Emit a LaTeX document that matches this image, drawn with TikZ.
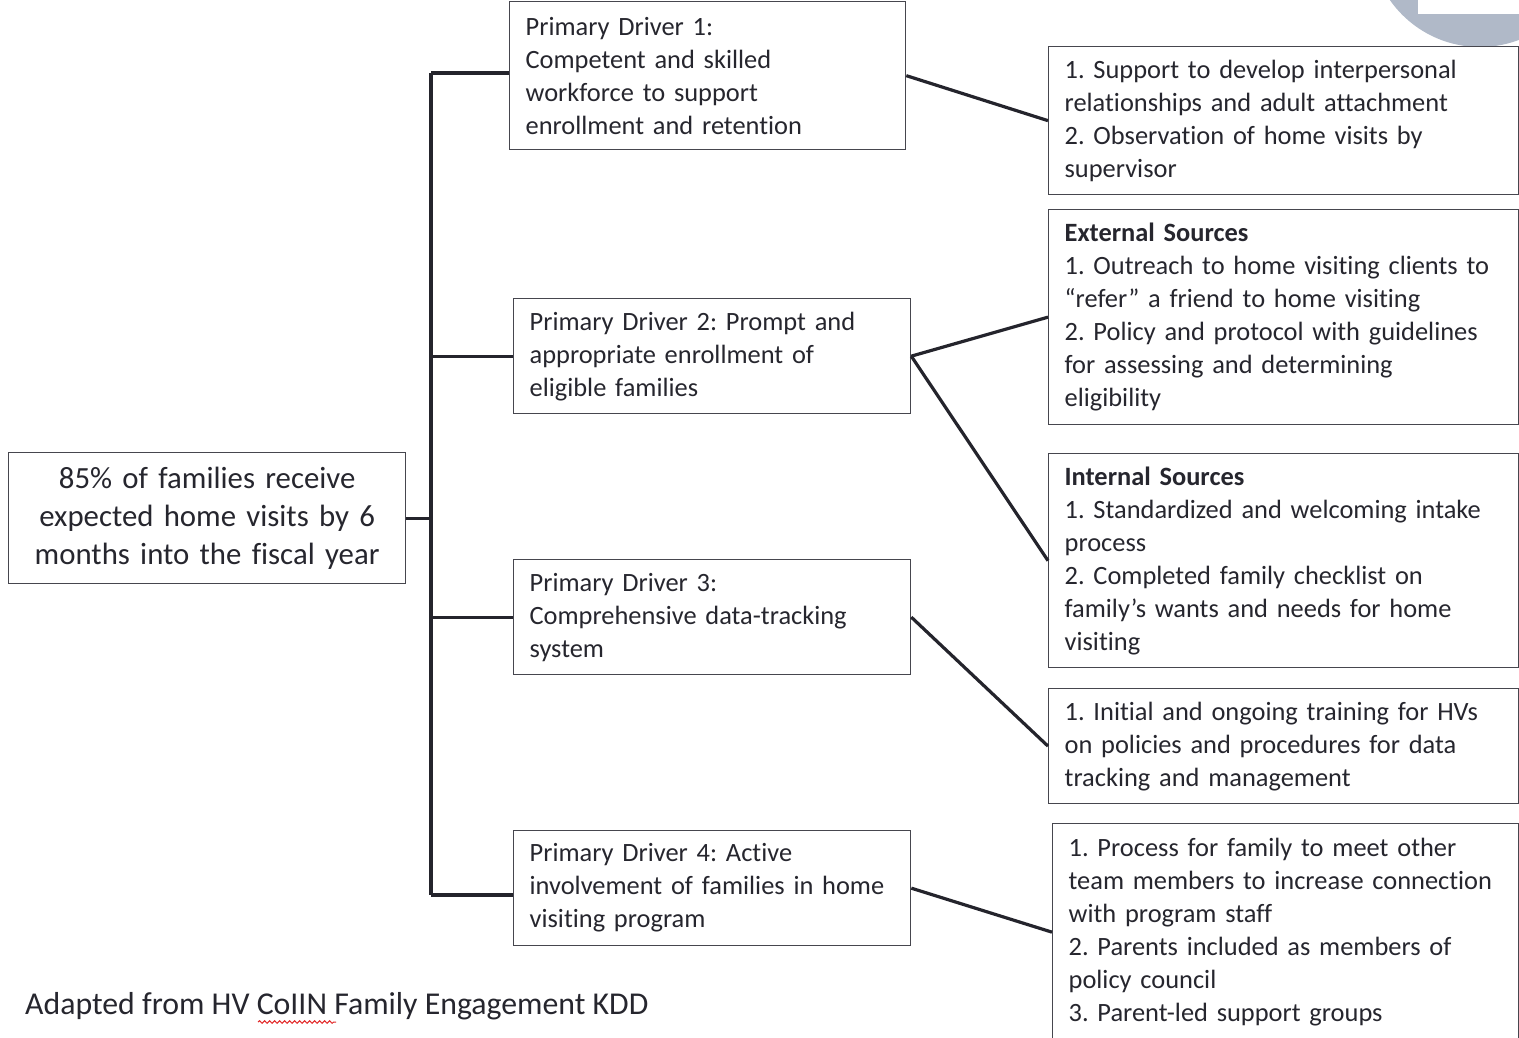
\documentclass[tikz,border=0pt]{standalone}
\usepackage{fontspec}
\setmainfont[Ligatures=NoCommon]{Carlito}
\usetikzlibrary{decorations.pathmorphing}

\definecolor{mylinegray}{RGB}{36,36,44}
\definecolor{myboxgray}{RGB}{70,70,78}
\definecolor{mytextgray}{RGB}{38,38,46}
\definecolor{mylogogray}{RGB}{176,185,200}
\definecolor{myspellred}{RGB}{225,40,40}

\newcommand\drvfont{\fontsize{26.4}{33}\selectfont}
\newcommand\goalfont{\fontsize{30.8}{38}\selectfont}

\begin{document}
\frenchspacing
\begin{tikzpicture}[x=1pt,y=-1pt,
    box/.style={draw=myboxgray,line width=1.3pt,fill=white,text=mytextgray,
      anchor=north west,inner xsep=16pt,inner ysep=0pt,align=left,font=\drvfont},
    link/.style={mylinegray,line width=3.2pt}]
  \useasboundingbox (0,0) rectangle (1519,1037);
  \clip (0,0) rectangle (1519,1037);
  % logo corner
  \fill[mylogogray] (1480,-63) circle (110pt);
  \fill[white] (1418,0) rectangle (1519,14);

  % aim
  \node[box,align=center,font=\goalfont,text width=365pt,minimum height=131pt] (goal) at (8,452)
    {85\% of families receive\\ expected home visits by 6\\ months into the fiscal year};

  % primary drivers
  \node[box,text width=364pt,minimum height=148pt] (pd1) at (509,1)
    {Primary Driver 1:\\ Competent and skilled\\ workforce to support\\ enrollment and retention};
  \node[box,text width=365pt,minimum height=115pt] (pd2) at (513,298)
    {Primary Driver 2: Prompt and\\ appropriate enrollment of\\ eligible families};
  \node[box,text width=365pt,minimum height=115pt] (pd3) at (513,559)
    {Primary Driver 3:\\ Comprehensive data-tracking\\ system};
  \node[box,text width=365pt,minimum height=115pt] (pd4) at (513,830)
    {Primary Driver 4: Active\\ involvement of families in home\\ visiting program};

  % secondary drivers
  \node[box,text width=438pt,minimum height=148pt] (sd1) at (1048,46)
    {1. Support to develop interpersonal\\ relationships and adult attachment\\
     2. Observation of home visits by\\ supervisor};
  \node[box,text width=438pt,minimum height=215pt] (sd2) at (1048,209)
    {\textbf{External Sources}\\ 1. Outreach to home visiting clients to\\
     “refer” a friend to home visiting\\ 2. Policy and protocol with guidelines\\
     for assessing and determining\\ eligibility};
  \node[box,text width=438pt,minimum height=214pt] (sd3) at (1048,453)
    {\textbf{Internal Sources}\\ 1. Standardized and welcoming intake\\ process\\
     2. Completed family checklist on\\ family’s wants and needs for home\\ visiting};
  \node[box,text width=438pt,minimum height=115pt] (sd4) at (1048,688)
    {1. Initial and ongoing training for HVs\\ on policies and procedures for data\\
     tracking and management};
  \node[box,text width=434pt,minimum height=217pt] (sd5) at (1052,823)
    {1. Process for family to meet other\\ team members to increase connection\\
     with program staff\\ 2. Parents included as members of\\ policy council\\
     3. Parent-led support groups};

  % tree
  \coordinate (ttop) at (431,73);
  \coordinate (tbot) at (431,895);
  \draw[link] (ttop) -- (tbot);
  \draw[link] (goal.east) -- (goal.east -| ttop);
  \draw[link] (ttop) -- (ttop -| pd1.west);
  \draw[link] (pd2.west -| ttop) -- (pd2.west);
  \draw[link] (pd3.west -| ttop) -- (pd3.west);
  \draw[link] (tbot) -- (tbot -| pd4.west);

  \draw[link] (pd1.east) -- (sd1.west);
  \draw[link] (pd2.east) -- (sd2.west);
  \draw[link] (pd2.east) -- (sd3.west);
  \draw[link] (pd3.east) -- (sd4.west);
  \draw[link] (pd4.east) -- (sd5.west);

  % source
  \node[anchor=base west,inner sep=0pt,text=mytextgray,font=\fontsize{31.8}{38}\selectfont] (src) at (25,1014)
    {Adapted from HV CoIIN Family Engagement KDD};
  \draw[myspellred,line width=1pt,decorate,decoration={snake,segment length=5pt,amplitude=1.3pt}]
    (258,1022) -- (336,1022);
\end{tikzpicture}
\end{document}
